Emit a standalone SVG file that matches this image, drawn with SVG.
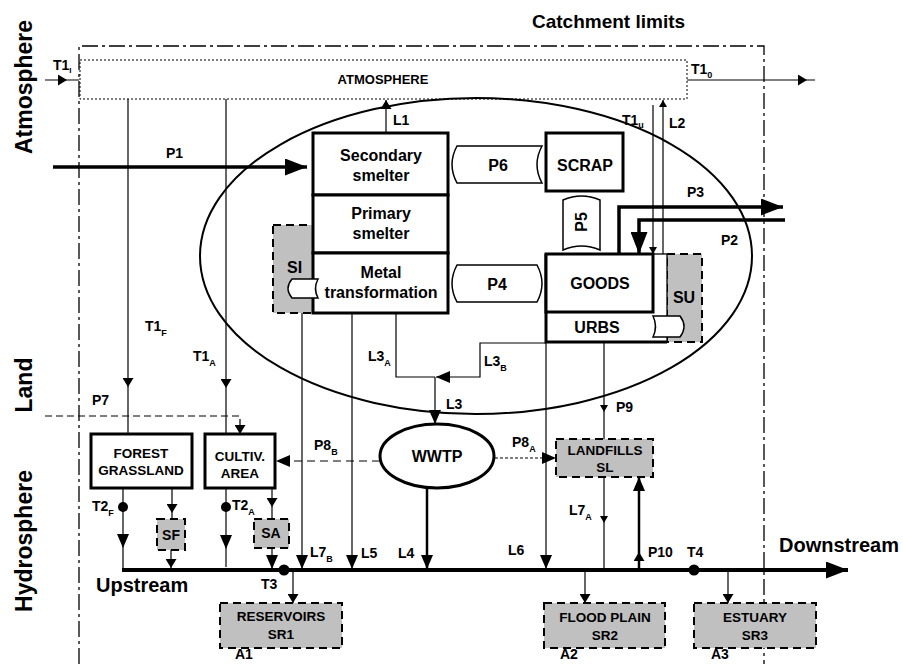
<svg xmlns="http://www.w3.org/2000/svg" width="903" height="664" viewBox="0 0 903 664">
<style>
text{font-family:"Liberation Sans",Arial,sans-serif;font-weight:bold;fill:#000}
.lb{font-size:14px}
.nd{font-size:16px;text-anchor:middle}
.sm{font-size:13.5px;text-anchor:middle}
.big{font-size:20px}
.side{font-size:23px;text-anchor:middle}
.thin{fill:none;stroke:#000;stroke-width:1.2}
.thick{fill:none;stroke:#000;stroke-width:3.5}
.box{fill:#fff;stroke:#000;stroke-width:3}
.gray{fill:#c0c0c0;stroke:#000;stroke-width:2;stroke-dasharray:8,5}
.scroll{fill:#fff;stroke:#000;stroke-width:1.5}
</style>
<defs>
<marker id="xs" markerUnits="userSpaceOnUse" markerWidth="8" markerHeight="8" refX="7" refY="4" orient="auto"><path d="M0,0 L7,4 L0,8 z" fill="#000"/></marker>
<marker id="s" markerUnits="userSpaceOnUse" markerWidth="10" markerHeight="11" refX="9" refY="5.5" orient="auto"><path d="M0,0 L9,5.5 L0,11 z" fill="#000"/></marker>
<marker id="m" markerUnits="userSpaceOnUse" markerWidth="15" markerHeight="12" refX="14" refY="6" orient="auto"><path d="M0,0 L14,6 L0,12 z" fill="#000"/></marker>
<marker id="b" markerUnits="userSpaceOnUse" markerWidth="23" markerHeight="17" refX="22" refY="8.5" orient="auto"><path d="M0,0 L22,8.5 L0,17 z" fill="#000"/></marker>
</defs>

<!-- frame and side labels -->
<path d="M79,664 V46 H764 V664" fill="none" stroke="#000" stroke-width="1.3" stroke-dasharray="16,4,3,4"/>
<text x="532" y="28" style="font-size:19px">Catchment limits</text>
<text class="side" transform="translate(32,87) rotate(-90)">Atmosphere</text>
<text class="side" transform="translate(32,385) rotate(-90)">Land</text>
<text class="side" transform="translate(32,541) rotate(-90)">Hydrosphere</text>
<text class="big" x="96" y="592">Upstream</text>
<text class="big" x="779" y="552">Downstream</text>

<g id="atmosphere">
<rect x="80" y="60" width="607" height="39" fill="none" stroke="#000" stroke-width="1" stroke-dasharray="2,2"/>
<text x="383" y="84" style="font-size:13px;text-anchor:middle">ATMOSPHERE</text>
</g>

<g id="city">
<ellipse cx="476" cy="256" rx="276" ry="158" fill="none" stroke="#000" stroke-width="2"/>
</g>

<g id="connectors">
<path class="thin" d="M45,80 H67 H79" marker-mid="url(#s)"/>
<path class="thin" d="M687,80 H807 H815" marker-mid="url(#s)"/>
<path class="thin" d="M128,99 V387 V434" marker-mid="url(#s)"/>
<path class="thin" d="M226,99 V388 V434" marker-mid="url(#s)"/>
<path class="thin" d="M45,416 H240 V434" stroke-dasharray="7,4" marker-end="url(#s)"/>
<path class="thick" d="M53,167 H307" marker-end="url(#b)"/>
<path class="thin" d="M386,133 V100" marker-end="url(#s)"/>
<path class="thin" d="M653,105 V254" marker-end="url(#xs)"/>
<path class="thin" d="M663,254 V100" marker-end="url(#xs)"/>
<path class="thick" d="M619,254 V207 H783" marker-end="url(#b)"/>
<path class="thick" d="M785,220 H639 V254" marker-end="url(#b)"/>
<path class="thin" d="M396,313 V377 H435"/>
<path class="thin" d="M546,343 H480 V377 H436" marker-end="url(#m)"/>
<path class="thin" d="M435,377 V424" marker-end="url(#m)"/>
<path class="thin" d="M604,342 V412 V439" marker-mid="url(#xs)"/>
<path class="thin" d="M380,461 H276" stroke-dasharray="8,5" marker-end="url(#m)"/>
<path class="thin" d="M495,458 H556" stroke-dasharray="3,2" marker-end="url(#m)"/>
<path class="thin" d="M302,313 V569" marker-end="url(#m)"/>
<path class="thin" d="M352,313 V569" marker-end="url(#m)"/>
<path class="thin" d="M546,342 V569" marker-end="url(#m)"/>
<path d="M427,488 V569" fill="none" stroke="#000" stroke-width="2.5" marker-end="url(#m)"/>
<path class="thin" d="M604,477 V523 V570" marker-mid="url(#xs)"/>
<path d="M639,570 V552 V477" fill="none" stroke="#000" stroke-width="2.5" marker-mid="url(#s)" marker-end="url(#m)"/>
<path class="thin" d="M123,488 V548 V570" marker-mid="url(#m)"/>
<path class="thin" d="M172,488 V513 V519" marker-mid="url(#s)"/>
<path class="thin" d="M171,550 V568" marker-end="url(#s)"/>
<path class="thin" d="M226,488 V549 V567" marker-mid="url(#m)"/>
<path class="thin" d="M272,488 V507 V519" marker-mid="url(#s)"/>
<path class="thin" d="M272,548 V569" marker-end="url(#m)"/>
<path class="thin" d="M293,570 V603" marker-end="url(#s)"/>
<path class="thin" d="M585,570 V603" marker-end="url(#s)"/>
<path class="thin" d="M728,570 V603" marker-end="url(#s)"/>
<path d="M122,570 H848" fill="none" stroke="#000" stroke-width="4" marker-end="url(#b)"/>
<circle cx="123" cy="507" r="5"/>
<circle cx="226" cy="507" r="5"/>
<circle cx="284" cy="570" r="5.5"/>
<circle cx="694" cy="570" r="5.5"/>
</g>

<g id="labels">
<text class="lb" x="53" y="70">T1<tspan font-size="8" dy="3">I</tspan></text>
<text class="lb" x="691" y="74">T1<tspan font-size="9" dy="4">0</tspan></text>
<text class="lb" x="166" y="158">P1</text>
<text class="lb" x="393" y="125">L1</text>
<text class="lb" x="622" y="125">T1<tspan font-size="9" dy="3">u</tspan></text>
<text class="lb" x="669" y="128">L2</text>
<text class="lb" x="687" y="197">P3</text>
<text class="lb" x="721" y="245">P2</text>
<text class="lb" x="145" y="331">T1<tspan font-size="9" dy="5">F</tspan></text>
<text class="lb" x="193" y="361">T1<tspan font-size="9" dy="5">A</tspan></text>
<text class="lb" x="92" y="405">P7</text>
<text class="lb" x="368" y="361">L3<tspan font-size="9" dy="5">A</tspan></text>
<text class="lb" x="484" y="366">L3<tspan font-size="9" dy="5">B</tspan></text>
<text class="lb" x="446" y="409">L3</text>
<text class="lb" x="616" y="412">P9</text>
<text class="lb" x="314" y="450">P8<tspan font-size="9" dy="5">B</tspan></text>
<text class="lb" x="512" y="447">P8<tspan font-size="9" dy="5">A</tspan></text>
<text class="lb" x="569" y="515">L7<tspan font-size="9" dy="5">A</tspan></text>
<text class="lb" x="310" y="557">L7<tspan font-size="9" dy="5">B</tspan></text>
<text class="lb" x="361" y="558">L5</text>
<text class="lb" x="398" y="558">L4</text>
<text class="lb" x="508" y="555">L6</text>
<text class="lb" x="648" y="557">P10</text>
<text class="lb" x="687" y="557">T4</text>
<text class="lb" x="92" y="511">T2<tspan font-size="9" dy="5">F</tspan></text>
<text class="lb" x="232" y="510">T2<tspan font-size="9" dy="5">A</tspan></text>
<text class="lb" x="261" y="589">T3</text>
<text class="lb" x="235" y="659">A1</text>
<text class="lb" x="560" y="659">A2</text>
<text class="lb" x="711" y="659">A3</text>
</g>

<g id="SI">
<rect class="gray" x="273" y="225" width="40" height="88"/>
<text x="287" y="273" style="font-size:16px">SI</text>
</g>

<g id="secondary-smelter">
<rect class="box" x="313" y="133" width="135" height="62"/>
<text class="nd" x="381" y="161">Secondary</text>
<text class="nd" x="381" y="181">smelter</text>
</g>
<g id="primary-smelter">
<rect class="box" x="313" y="195" width="135" height="58"/>
<text class="nd" x="381" y="219">Primary</text>
<text class="nd" x="381" y="239">smelter</text>
</g>
<g id="metal-transformation">
<rect class="box" x="313" y="253" width="135" height="60"/>
<text class="nd" x="381" y="278">Metal</text>
<text class="nd" x="381" y="298">transformation</text>
</g>
<g id="SI-pipe">
<path class="scroll" d="M292,279 H318 Q313,288.5 318,298 H292 Q284,288.5 292,279 Z"/>
</g>

<g id="P6">
<path class="scroll" d="M457,146 H542 Q532,164.5 542,183 H457 Q447,164.5 457,146 Z"/>
<text class="nd" x="498" y="171">P6</text>
</g>
<g id="P4">
<path class="scroll" d="M457,265 H537 Q547,283.5 537,302 H457 Q447,283.5 457,265 Z"/>
<text class="nd" x="497" y="290">P4</text>
</g>
<g id="P5">
<path class="scroll" d="M563,200 Q581.5,192 600,200 V250 Q581.5,242 563,250 Z"/>
<text class="nd" transform="translate(587,222) rotate(-90)">P5</text>
</g>

<g id="scrap">
<rect class="box" x="546" y="133" width="77" height="58"/>
<text class="nd" x="585" y="171">SCRAP</text>
</g>

<g id="SU">
<rect class="gray" x="667" y="254" width="35" height="88"/>
<text x="684" y="303" style="font-size:16px;text-anchor:middle">SU</text>
</g>
<g id="urbs">
<rect x="546" y="254" width="121" height="88" fill="#fff" stroke="#000" stroke-width="1.3"/>
<path d="M546,254 V342 H667" fill="none" stroke="#000" stroke-width="3"/>
<text class="nd" x="597" y="333">URBS</text>
<path class="scroll" d="M653,316 H680 Q688,326.5 680,337 H653 Q658,326.5 653,316 Z"/>
</g>
<g id="goods">
<rect class="box" x="546" y="254" width="107" height="58"/>
<text class="nd" x="600" y="289">GOODS</text>
</g>

<g id="forest">
<rect class="box" x="91" y="434" width="101" height="54"/>
<text class="sm" x="141" y="458">FOREST</text>
<text class="sm" x="141" y="475">GRASSLAND</text>
</g>
<g id="cultiv">
<rect class="box" x="205" y="434" width="70" height="54"/>
<text class="sm" x="240" y="461">CULTIV.</text>
<text class="sm" x="240" y="478">AREA</text>
</g>
<g id="SF">
<rect class="gray" x="157" y="519" width="28" height="31"/>
<text x="171" y="540" style="font-size:14px;text-anchor:middle">SF</text>
</g>
<g id="SA">
<rect class="gray" x="254" y="519" width="35" height="29"/>
<text x="271" y="538" style="font-size:14px;text-anchor:middle">SA</text>
</g>

<g id="wwtp">
<ellipse cx="437" cy="456" rx="57" ry="32" fill="#fff" stroke="#000" stroke-width="3"/>
<text class="nd" x="437" y="462">WWTP</text>
</g>

<g id="landfills">
<rect class="gray" x="556" y="439" width="97" height="38"/>
<text class="sm" x="605" y="455">LANDFILLS</text>
<text class="sm" x="605" y="472">SL</text>
</g>

<g id="reservoirs">
<rect class="gray" x="220" y="603" width="122" height="45"/>
<text class="sm" x="281" y="621">RESERVOIRS</text>
<text class="sm" x="281" y="639">SR1</text>
</g>
<g id="floodplain">
<rect class="gray" x="544" y="603" width="121" height="45"/>
<text class="sm" x="605" y="622">FLOOD PLAIN</text>
<text class="sm" x="605" y="640">SR2</text>
</g>
<g id="estuary">
<rect class="gray" x="694" y="603" width="122" height="45"/>
<text class="sm" x="755" y="622">ESTUARY</text>
<text class="sm" x="755" y="640">SR3</text>
</g>
</svg>
